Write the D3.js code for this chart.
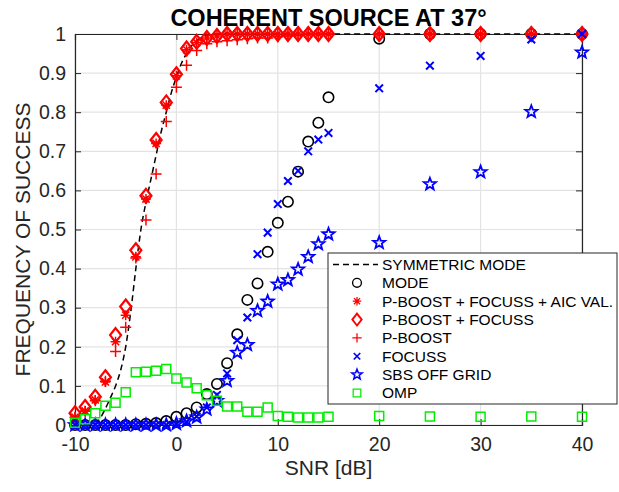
<!DOCTYPE html>
<html><head><meta charset="utf-8">
<script src="https://cdn.jsdelivr.net/npm/d3@7"></script>
<style>html,body{margin:0;padding:0;background:#fff;}svg{display:block;font-family:"Liberation Sans",Arial,Helvetica,sans-serif;}</style>
</head><body>
<svg id="c" width="619" height="492"></svg>
<script>
const snr = [-10,-9,-8,-7,-6,-5,-4,-3,-2,-1,0,1,2,3,4,5,6,7,8,9,10,11,12,13,14,15,20,25,30,35,40];
const symX = [-10,-9,-8,-7.5,-7,-6.5,-6,-5.5,-5,-4.5,-4,-3.5,-3,-2.5,-2,-1.5,-1,-0.5,0,0.5,1,1.5,2,2.5,3,4,5,10,20,30,40];
const symY = [0,0,0.004,0.018,0.042,0.07,0.1,0.14,0.2,0.29,0.4,0.5,0.57,0.63,0.69,0.75,0.8,0.85,0.89,0.925,0.95,0.97,0.983,0.992,0.997,1,1,1,1,1,1];
const modeVals = [0,0,0,0,0,0,0.002,0.003,0.005,0.01,0.021,0.03,0.045,0.079,0.105,0.158,0.232,0.32,0.362,0.443,0.517,0.571,0.648,0.725,0.773,0.838,0.988,1,1,1,1];
const pbfAicVals = [0.02,0.036,0.064,0.11,0.213,0.281,0.43,0.578,0.72,0.818,0.893,0.96,0.978,0.99,0.995,1,1,1,1,1,1,1,1,1,1,1,1,1,1,1,1];
const pbfVals = [0.03,0.046,0.072,0.122,0.23,0.303,0.447,0.586,0.729,0.825,0.897,0.963,0.98,0.99,0.995,1,1,1,1,1,1,1,1,1,1,1,1,1,1,1,1];
const pboostVals = [0.02,0.035,0.062,0.112,0.188,0.25,0.427,0.524,0.642,0.776,0.864,0.92,0.958,0.975,0.98,0.983,0.985,0.988,0.99,0.99,0.993,0.995,0.997,1,1,1,1,1,1,1,1];
const focussVals = [0,0,0,0,0,0,0,0,0,0,0.002,0.008,0.022,0.045,0.077,0.132,0.217,0.275,0.437,0.492,0.565,0.624,0.65,0.70,0.73,0.747,0.861,0.919,0.944,0.986,1.0];
const sbsVals = [0,0,0,0,0,0,0,0,0,0,0.003,0.01,0.02,0.04,0.062,0.113,0.185,0.205,0.292,0.316,0.36,0.371,0.398,0.43,0.463,0.488,0.466,0.616,0.647,0.801,0.953];
const ompVals = [0.006,0.015,0.03,0.049,0.057,0.084,0.135,0.136,0.139,0.143,0.119,0.109,0.094,0.076,0.062,0.047,0.047,0.034,0.034,0.045,0.023,0.021,0.019,0.019,0.019,0.021,0.023,0.022,0.021,0.022,0.021];
const xTicks = [-10,0,10,20,30,40];
const yTicks = [0,0.1,0.2,0.3,0.4,0.5,0.6,0.7,0.8,0.9,1];
const legendLabels = ["SYMMETRIC MODE","MODE","P-BOOST + FOCUSS + AIC VAL.","P-BOOST + FOCUSS","P-BOOST","FOCUSS","SBS OFF GRID","OMP"];

const svg = d3.select("#c");
const L=75, R=582, T=34, B=425;
const x = d3.scaleLinear().domain([-10,40]).range([L,R]);
const y = d3.scaleLinear().domain([0,1]).range([B,T]);
const axisColor = "#262626";

// grid
const g = svg.append("g");
g.selectAll(".gx").data(xTicks).join("line").attr("x1",d=>x(d)).attr("x2",d=>x(d)).attr("y1",T).attr("y2",B).attr("stroke","#e3e3e3").attr("stroke-width",1.2);
g.selectAll(".gy").data(yTicks).join("line").attr("y1",d=>y(d)).attr("y2",d=>y(d)).attr("x1",L).attr("x2",R).attr("stroke","#e3e3e3").attr("stroke-width",1.2);

// axes
const xAxis = d3.axisBottom(x).tickValues(xTicks).tickSize(-6).tickPadding(12).tickFormat(d=>String(d));
const yAxis = d3.axisLeft(y).tickValues(yTicks).tickSize(-6).tickPadding(9).tickFormat(d=>d===0?"0":d===1?"1":d3.format(".1f")(d));
const gx = svg.append("g").attr("transform",`translate(0,${B})`).call(xAxis);
const gy = svg.append("g").attr("transform",`translate(${L},0)`).call(yAxis);
const gx2 = svg.append("g").attr("transform",`translate(0,${T})`).call(d3.axisTop(x).tickValues(xTicks).tickSize(-6).tickFormat(""));
const gy2 = svg.append("g").attr("transform",`translate(${R},0)`).call(d3.axisRight(y).tickValues(yTicks).tickSize(-6).tickFormat(""));
[gx,gy,gx2,gy2].forEach(a=>{a.select(".domain").attr("stroke",axisColor).attr("stroke-width",1.2);a.selectAll(".tick line").attr("stroke",axisColor);
  a.selectAll("text").attr("fill",axisColor).style("font-size","19.5px").style("font-family","'Liberation Sans',Arial,sans-serif");});

// symmetric mode dashed line
const line = d3.line().x(d=>x(d[0])).y(d=>y(d[1])).curve(d3.curveMonotoneX);
svg.append("path").datum(symX.map((v,i)=>[v,symY[i]])).attr("d",line).attr("fill","none").attr("stroke","#000").attr("stroke-width",1.5).attr("stroke-dasharray","6,4");

// marker shapes
function starPath(ro,ri){let p="";for(let i=0;i<10;i++){const r=i%2?ri:ro;const a=-Math.PI/2+i*Math.PI/5;p+=(i?"L":"M")+(r*Math.cos(a)).toFixed(2)+","+(r*Math.sin(a)).toFixed(2);}return p+"Z";}
const shapes = {
  circle:{d:"M-5.2,0A5.2,5.2 0 1,0 5.2,0A5.2,5.2 0 1,0 -5.2,0Z",stroke:"#000",w:1.6},
  asterisk:{d:"M-5,0L5,0M0,-5L0,5M-3.6,-3.6L3.6,3.6M-3.6,3.6L3.6,-3.6",stroke:"#ff0000",w:1.5},
  diamond:{d:"M0,-7L5.5,0L0,7L-5.5,0Z",stroke:"#ff0000",w:2.2},
  plus:{d:"M-5.5,0L5.5,0M0,-5.5L0,5.5",stroke:"#ff0000",w:1.5},
  cross:{d:"M-3.8,-3.8L3.8,3.8M-3.8,3.8L3.8,-3.8",stroke:"#0000ff",w:2},
  star:{d:starPath(6.4,2.7),stroke:"#0000ff",w:1.8},
  square:{d:"M-4.5,-4.5H4.5V4.5H-4.5Z",stroke:"#00ee00",w:1.5}
};
const series = [
  {vals:modeVals,shape:"circle"},
  {vals:pbfAicVals,shape:"asterisk"},
  {vals:pbfVals,shape:"diamond"},
  {vals:pboostVals,shape:"plus"},
  {vals:focussVals,shape:"cross"},
  {vals:sbsVals,shape:"star"},
  {vals:ompVals,shape:"square"}
];
series.forEach(s=>{
  const sh = shapes[s.shape];
  svg.append("g").selectAll("path").data(snr.map((v,i)=>[v,s.vals[i]])).join("path")
    .attr("transform",d=>`translate(${x(d[0])},${y(d[1])})`).attr("d",sh.d)
    .attr("fill","none").attr("stroke",sh.stroke).attr("stroke-width",sh.w).attr("stroke-linejoin","miter");
});

// title and labels
svg.append("text").attr("x",(L+R)/2).attr("y",26).attr("text-anchor","middle").style("font-weight","bold").style("font-size","23.5px").attr("fill","#000").text("COHERENT SOURCE AT 37°");
svg.append("text").attr("x",(L+R)/2).attr("y",475).attr("text-anchor","middle").style("font-size","21px").attr("fill",axisColor).text("SNR [dB]");
svg.append("text").attr("transform",`translate(30,${(T+B)/2+10}) rotate(-90)`).attr("text-anchor","middle").style("font-size","21px").attr("fill",axisColor).text("FREQUENCY OF SUCCESS");

// legend
const lg = svg.append("g");
lg.append("rect").attr("x",328).attr("y",253).attr("width",289).attr("height",151).attr("fill","#fff").attr("stroke",axisColor).attr("stroke-width",1);
const rowY = i=>264.5+i*18.35;
lg.append("line").attr("x1",333).attr("x2",378).attr("y1",rowY(0)).attr("y2",rowY(0)).attr("stroke","#000").attr("stroke-width",1.5).attr("stroke-dasharray","6,4");
series.forEach((s,i)=>{const sh=shapes[s.shape];lg.append("path").attr("transform",`translate(357,${rowY(i+1)}) scale(0.85)`).attr("d",sh.d).attr("fill","none").attr("stroke",sh.stroke).attr("stroke-width",sh.w);});
lg.selectAll("text").data(legendLabels).join("text").attr("x",382).attr("y",(d,i)=>rowY(i)+5.5).style("font-size","15.5px").attr("fill","#000").text(d=>d);
</script>
</body></html>
